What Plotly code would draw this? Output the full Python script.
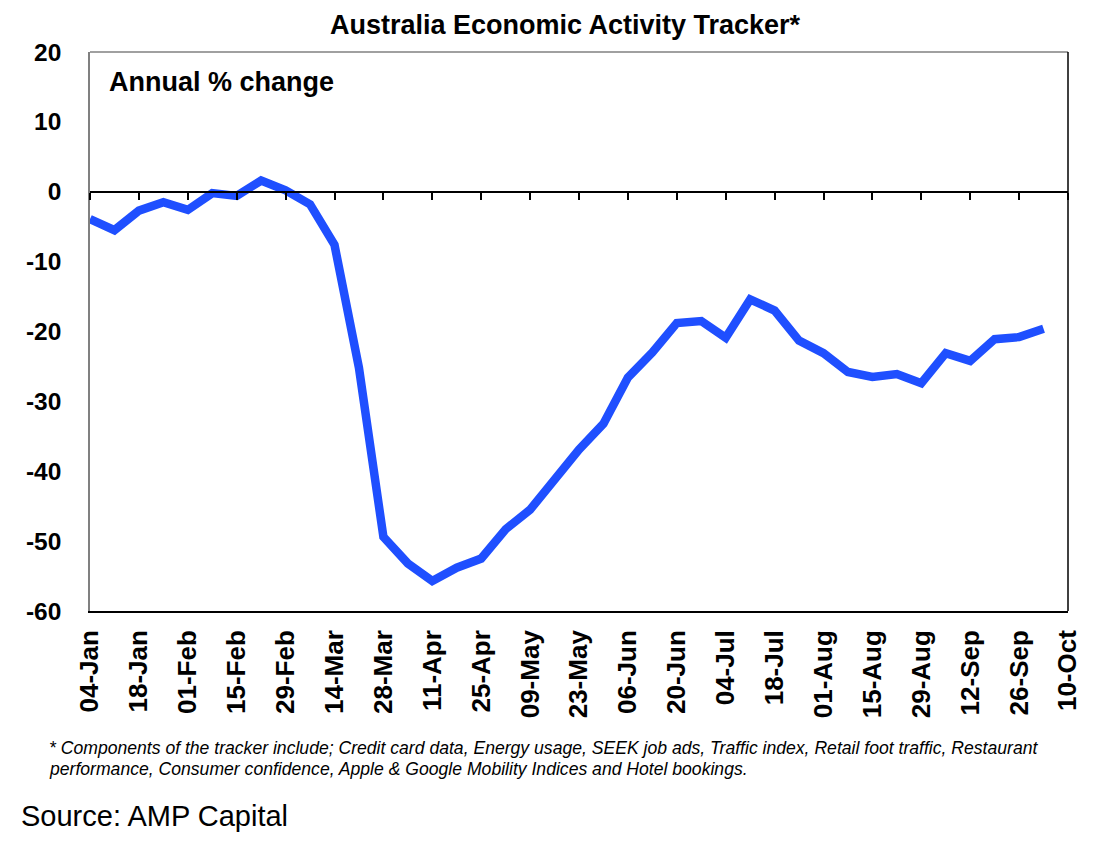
import pandas as pd
import plotly.graph_objects as go

# weekly tracker readings, annual % change
weeks = pd.date_range('2020-01-04', periods=40, freq='7D')
activity = [-3.9, -5.5, -2.7, -1.5, -2.6, -0.2, -0.6, 1.6, 0.2, -1.8,
            -7.6, -25.2, -49.4, -53.2, -55.7, -53.8, -52.5, -48.3, -45.5, -41.2,
            -36.9, -33.2, -26.6, -23.0, -18.8, -18.5, -20.9, -15.4, -17.0, -21.3,
            -23.1, -25.8, -26.5, -26.1, -27.4, -23.1, -24.2, -21.1, -20.8, -19.6]

y_ticks = [20, 10, 0, -10, -20, -30, -40, -50, -60]
y_labels = ['20', '10', '0', '-10', '-20', '-30', '-40', '-50', '-60']

FONT = 'Liberation Sans, Arial, sans-serif'
x_range = ['2020-01-04', '2020-10-10']
# page body has an 8px margin, so everything is shifted back by 8
OFF = 8

fig = go.Figure()
fig.add_trace(go.Scatter(x=weeks, y=activity, mode='lines',
                         line=dict(color='#1f4fff', width=8.5), showlegend=False))

fig.update_layout(
    width=1112, height=849,
    margin=dict(l=90 - OFF, r=44 + OFF, t=52 - OFF, b=238 + OFF),
    plot_bgcolor='white', paper_bgcolor='white',
    font=dict(family=FONT, color='black'),
    title=dict(text='<b>Australia Economic Activity Tracker*</b>', x=(565 - OFF) / 1112, xref='container',
               xanchor='center', y=1 - (25 - OFF) / 849, yanchor='middle', font=dict(size=27)),
    xaxis=dict(type='date', range=x_range, tick0='2020-01-04', dtick=14 * 86400000,
               tickformat='%d-%b', tickangle=-90, ticks='', showgrid=False, zeroline=False,
               showline=True, linecolor='black', linewidth=1.5,
               tickfont=dict(size=26, family=FONT, weight='bold'), ticklabelstandoff=7),
    # axis drawn along the zero line carrying the tick marks
    xaxis2=dict(type='date', range=x_range, tick0='2020-01-04', dtick=14 * 86400000,
                overlaying='x', anchor='free', position=0.75, showticklabels=False,
                ticks='outside', ticklen=7, tickcolor='black', tickwidth=1.5,
                showgrid=False, zeroline=False, showline=True, linecolor='black', linewidth=1.5),
    yaxis=dict(range=[-60, 20], tickmode='array', tickvals=y_ticks, ticktext=y_labels,
               showgrid=False, zeroline=False,
               showline=True, linecolor='#808080', linewidth=1.5, ticks='',
               tickfont=dict(size=24.5, family=FONT, weight='bold'), ticklabelstandoff=22),
)

fig.add_trace(go.Scatter(x=[weeks[0]], y=[0], xaxis='x2', mode='markers',
                         marker=dict(opacity=0), hoverinfo='skip', showlegend=False))

# box edges: top grey, right black
fig.add_shape(type='line', xref='paper', yref='paper', x0=0, x1=1, y0=1, y1=1,
              line=dict(color='#808080', width=1.5))
fig.add_shape(type='line', xref='paper', yref='paper', x0=1, x1=1, y0=0, y1=1,
              line=dict(color='black', width=1.5))

fig.add_annotation(text='<b>Annual % change</b>', xref='paper', yref='paper',
                   x=0.0174, y=0.946, xanchor='left', yanchor='middle',
                   showarrow=False, font=dict(size=27))

fig.add_annotation(text='<i>* Components of the tracker include; Credit card data, Energy usage, SEEK job ads, '
                        'Traffic index, Retail foot traffic, Restaurant</i>',
                   xref='paper', yref='paper', x=-0.044, y=-0.245, xanchor='left', yanchor='middle',
                   showarrow=False, font=dict(size=17.6))
fig.add_annotation(text='<i>performance, Consumer confidence, Apple &amp; Google Mobility Indices and Hotel bookings.</i>',
                   xref='paper', yref='paper', x=-0.044, y=-0.283, xanchor='left', yanchor='middle',
                   showarrow=False, font=dict(size=17.6))
fig.add_annotation(text='Source: AMP Capital', xref='paper', yref='paper',
                   x=-0.0725, y=-0.367, xanchor='left', yanchor='middle',
                   showarrow=False, font=dict(size=29))

fig.write_html('out.html')
